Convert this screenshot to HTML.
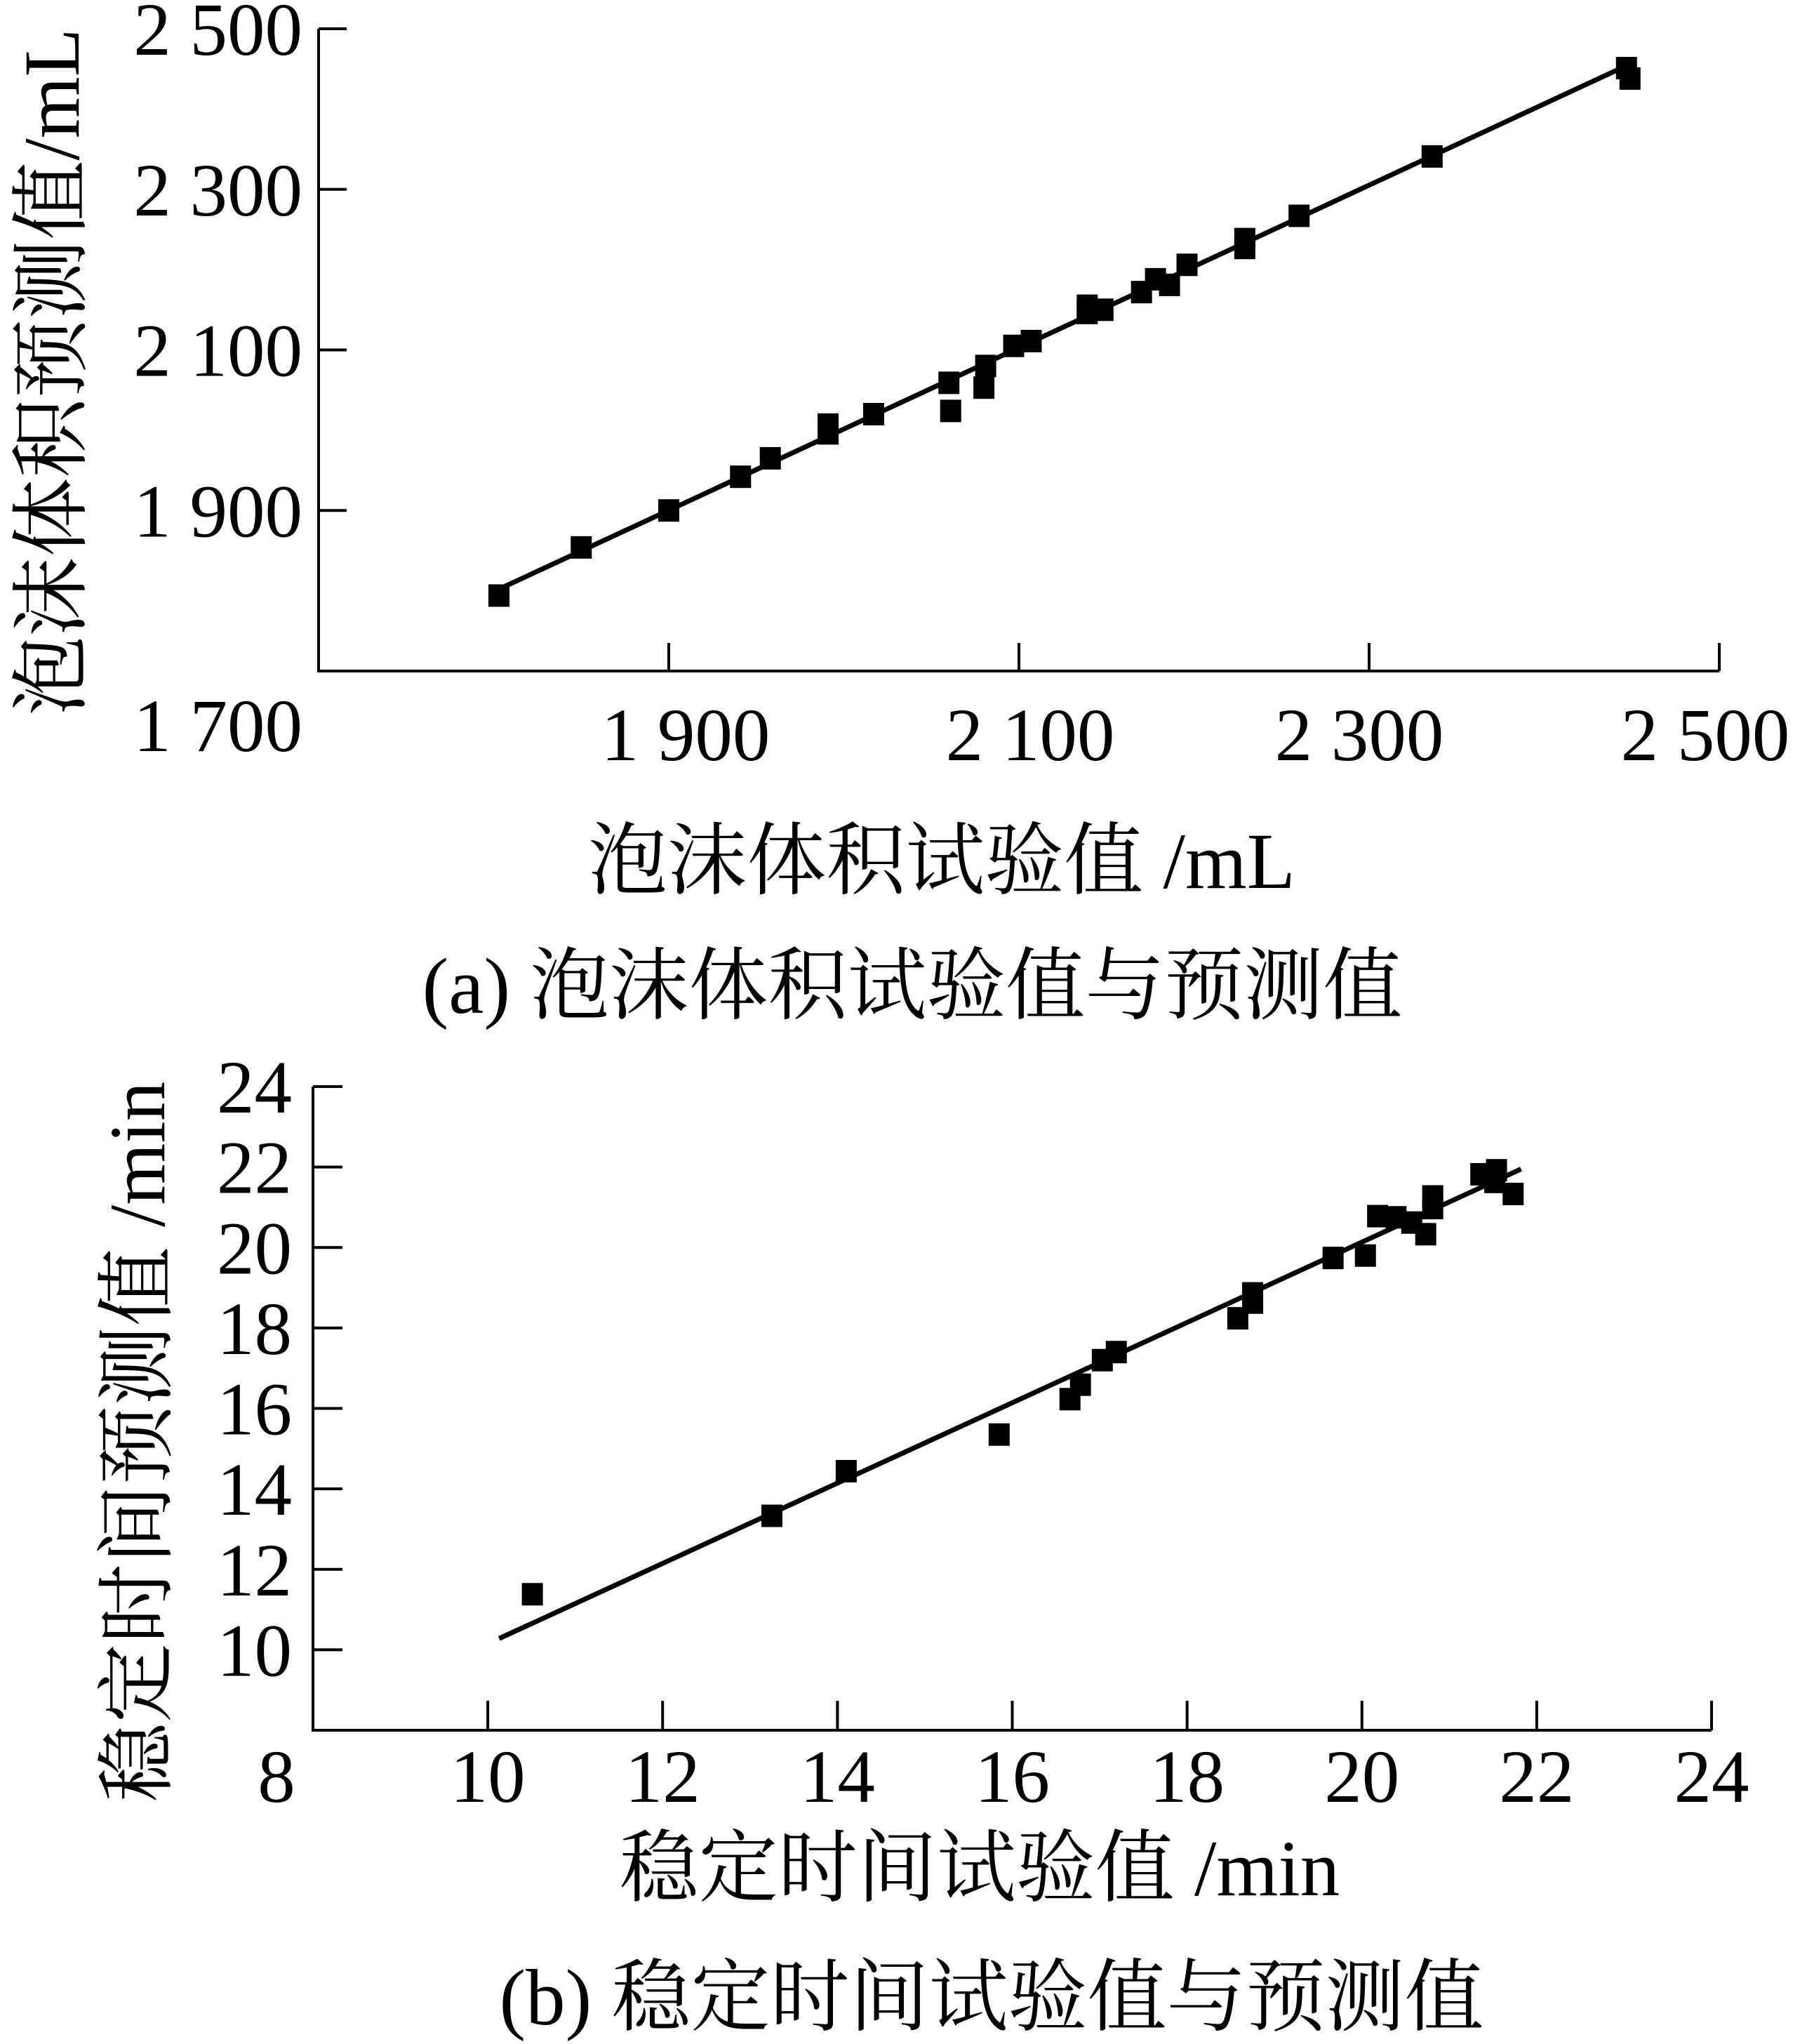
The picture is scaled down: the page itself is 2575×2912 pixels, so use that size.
<!DOCTYPE html>
<html><head><meta charset="utf-8"><style>
html,body{margin:0;padding:0;background:#fff;}
svg{display:block;}
text{font-family:"Liberation Serif","Noto Serif CJK SC",serif;fill:#000;}
</style></head><body>
<svg id="svg" width="2575" height="2912" viewBox="0 0 2575 2912" xmlns="http://www.w3.org/2000/svg">
<g id="ca"></g>
<g id="cb"></g>
<text x="1342" y="1265" font-size="113" text-anchor="middle">泡沫体积试验值 /mL</text>
<text x="1300" y="1443" font-size="113" text-anchor="middle">(a) 泡沫体积试验值与预测值</text>
<text transform="translate(112,530) rotate(-90)" x="0" y="0" font-size="113" text-anchor="middle">泡沫体积预测值/mL</text>
<text x="1396" y="2700" font-size="113" text-anchor="middle">稳定时间试验值 /min</text>
<text x="1413" y="2884" font-size="113" text-anchor="middle">(b) 稳定时间试验值与预测值</text>
<text transform="translate(234,2054) rotate(-90)" x="0" y="0" font-size="113" text-anchor="middle">稳定时间预测值 /min</text>
</svg>
<script>
const aTicksX=[1900,2100,2300,2500];
const aTicksY=[1900,2100,2300,2500];
const aTickLabelsX=["1 900","2 100","2 300","2 500"];
const aTickLabelsY=["1 900","2 100","2 300","2 500"];
const aExp=[1803,1850,1900,1941,1958,1991,1991,2017,2060,2061,2081,2080,2097,2107,2139,2139,2148,2170,2178,2186,2196,2229,2229,2260,2336,2447,2449];
const aPred=[1794,1854,1900,1942,1965,2007,1996,2020,2059,2024,2080,2053,2105,2111,2155,2146,2150,2172,2188,2181,2206,2238,2227,2267,2341,2451,2438];
const aFitX=[1803,2446];
const aFitY=[1802,2453];

const bTicksX=[8,10,12,14,16,18,20,22,24];
const bTicksY=[10,12,14,16,18,20,22,24];
const bExp=[10.51,13.25,14.10,15.85,16.66,16.78,17.03,17.19,18.58,18.75,18.75,19.67,20.04,20.18,20.39,20.57,20.73,20.81,20.81,21.36,21.54,21.52,21.73];
const bPred=[11.38,13.33,14.44,15.35,16.23,16.59,17.20,17.40,18.24,18.63,18.86,19.74,19.80,20.78,20.75,20.62,20.33,20.98,21.27,21.82,21.92,21.63,21.33];
const bFitX=[10.13,21.82];
const bFitY=[10.28,21.95];

const NS="http://www.w3.org/2000/svg";
function mk(tag,attrs,parent){const e=document.createElementNS(NS,tag);for(const k in attrs)e.setAttribute(k,attrs[k]);parent.appendChild(e);return e;}

// chart a
(function(){
const g=document.getElementById('ca');
const X0=454,X1=2450,Y0=956,Y1=41,vmin=1700,vmax=2500;
const sx=v=>X0+(v-vmin)/(vmax-vmin)*(X1-X0);
const sy=v=>Y0-(v-vmin)/(vmax-vmin)*(Y0-Y1);
const labOff=[24,16,-14,-20];
let ax=mk('path',{d:`M${X0},${Y1} L${X0},${Y0} L${X1},${Y0}`,fill:'none',stroke:'#000','stroke-width':4},g);


aTicksX.forEach((v,i)=>{
 let t=mk('line',{x1:sx(v),x2:sx(v),y1:Y0,y2:Y0-40,stroke:'#000','stroke-width':4},g);
 
 
 let l=mk('text',{x:sx(v)+labOff[i],y:Y0+127,'font-size':107,'text-anchor':'middle'},g);l.textContent=aTickLabelsX[i];
 
 
});
aTicksY.forEach((v,i)=>{
 let t=mk('line',{x1:X0,x2:X0+40,y1:sy(v),y2:sy(v),stroke:'#000','stroke-width':4},g);
 
 
 let l=mk('text',{x:431,y:sy(v)+37,'font-size':107,'text-anchor':'end'},g);l.textContent=aTickLabelsY[i];
 
 
});
let l0=mk('text',{x:431,y:1070,'font-size':107,'text-anchor':'end'},g);l0.textContent="1 700";


let fl=mk('line',{x1:sx(aFitX[0]),y1:sy(aFitY[0]),x2:sx(aFitX[1]),y2:sy(aFitY[1]),stroke:'#000','stroke-width':7},g);


aExp.forEach((v,i)=>{
 let r=mk('rect',{x:sx(v)-15,y:sy(aPred[i])-16,width:30,height:32,fill:'#000'},g);
 
 
});
})();

// chart b
(function(){
const g=document.getElementById('cb');
const X0=446,X1=2439,Y0=2465,Y1=1548,vmin=8,vmax=24;
const sx=v=>X0+(v-vmin)/(vmax-vmin)*(X1-X0);
const sy=v=>Y0-(v-vmin)/(vmax-vmin)*(Y0-Y1);
let ax=mk('path',{d:`M${X0},${Y1} L${X0},${Y0} L${X1},${Y0}`,fill:'none',stroke:'#000','stroke-width':4},g);


bTicksX.forEach(v=>{
 if(v>vmin){
 let t=mk('line',{x1:sx(v),x2:sx(v),y1:Y0,y2:Y0-42,stroke:'#000','stroke-width':4},g);
 
 }
 let l=mk('text',{x:v===vmin?sx(v)-52:sx(v),y:Y0+102,'font-size':107,'text-anchor':'middle'},g);l.textContent=String(v);
 
 
});
bTicksY.forEach(v=>{
 let t=mk('line',{x1:X0,x2:X0+42,y1:sy(v),y2:sy(v),stroke:'#000','stroke-width':4},g);
 
 
 let l=mk('text',{x:416,y:sy(v)+37,'font-size':107,'text-anchor':'end'},g);l.textContent=String(v);
 
 
});
let fl=mk('line',{x1:sx(bFitX[0]),y1:sy(bFitY[0]),x2:sx(bFitX[1]),y2:sy(bFitY[1]),stroke:'#000','stroke-width':7},g);


bExp.forEach((v,i)=>{
 let r=mk('rect',{x:sx(v)-15,y:sy(bPred[i])-16,width:30,height:32,fill:'#000'},g);
 
 
});
})();
</script>
</body></html>
